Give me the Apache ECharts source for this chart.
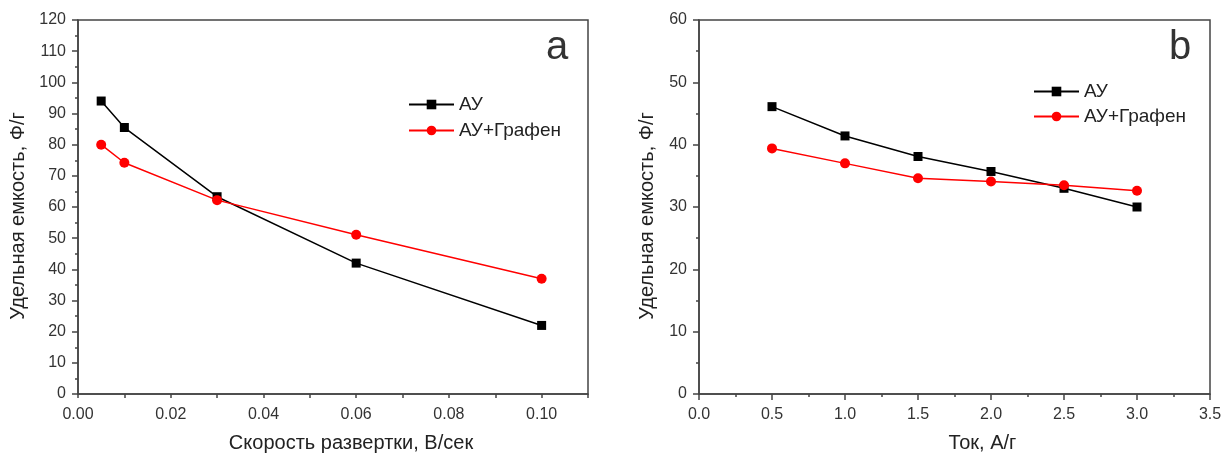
<!DOCTYPE html>
<html>
<head>
<meta charset="utf-8">
<script src="https://cdn.jsdelivr.net/npm/echarts@6/dist/echarts.min.js"></script>
<style>
html,body{margin:0;padding:0;background:#fff;}
#chart{width:1223px;height:454px;}
</style>
</head>
<body>
<div id="chart"></div>
<script>
// Panel a: specific capacitance vs scan rate
const scanRate = [0.005, 0.01, 0.03, 0.06, 0.10];
const auA = [94, 85.5, 63.3, 42, 22];
const auGrapheneA = [80, 74.2, 62.2, 51.1, 37];
// Panel b: specific capacitance vs current density
const current = [0.5, 1.0, 1.5, 2.0, 2.5, 3.0];
const auB = [46.1, 41.4, 38.1, 35.7, 33.0, 30.0];
const auGrapheneB = [39.4, 37.0, 34.6, 34.1, 33.5, 32.6];

const seriesNames = ['АУ', 'АУ+Графен'];
const yName = 'Удельная емкость, Ф/г';
const xNameA = 'Скорость развертки, В/сек';
const xNameB = 'Ток, А/г';
const panelLabels = ['a', 'b'];

const FONT = '"Liberation Sans", Arial, sans-serif';
const AX = '#444';
const pair = (xs, ys) => xs.map((x, i) => [x, ys[i]]);

function xAxis(gridIndex, max, interval, name, labelFmt, namePad) {
  return {
    type: 'value', gridIndex, min: 0, max, interval,
    name, nameLocation: 'middle', nameGap: 39,
    nameTextStyle: { fontFamily: FONT, fontSize: 20, color: '#222', padding: namePad },
    axisLine: { show: true, onZero: false, lineStyle: { color: AX, width: 1.5 } },
    axisTick: { show: true, inside: false, length: 4, lineStyle: { color: AX, width: 1.5 } },
    minorTick: { show: false },
    splitLine: { show: false },
    axisLabel: { fontFamily: FONT, fontSize: 16, color: '#333', margin: 13, formatter: labelFmt, showMaxLabel: true }
  };
}
function yAxis(gridIndex, max, gap) {
  return {
    type: 'value', gridIndex, min: 0, max, interval: 10,
    name: yName, nameLocation: 'middle', nameGap: gap,
    nameTextStyle: { fontFamily: FONT, fontSize: 20, color: '#222', padding: [0, 18, 0, 0] },
    axisLine: { show: true, onZero: false, lineStyle: { color: AX, width: 1.5 } },
    axisTick: { show: true, inside: false, length: 6, lineStyle: { color: AX, width: 1.5 } },
    minorTick: { show: true, splitNumber: 2, length: 3, lineStyle: { color: AX, width: 1.5 } },
    splitLine: { show: false },
    axisLabel: { fontFamily: FONT, fontSize: 16, color: '#333', margin: 12 }
  };
}
function lineSeries(name, xi, data, color, symbol, size) {
  return {
    name, type: 'line', xAxisIndex: xi, yAxisIndex: xi, data,
    symbol, symbolSize: size, showSymbol: true,
    lineStyle: { color, width: 1.5 }, itemStyle: { color },
    emphasis: { disabled: true }, animation: false
  };
}

const chart = echarts.init(document.getElementById('chart'), null, { renderer: 'canvas' });
chart.setOption({
  backgroundColor: '#fff',
  animation: false,
  title: [
    { text: panelLabels[0], left: 541, top: 23, textStyle: { fontFamily: FONT, fontSize: 40, fontWeight: 'normal', color: '#333' } },
    { text: panelLabels[1], left: 1164, top: 23, textStyle: { fontFamily: FONT, fontSize: 40, fontWeight: 'normal', color: '#333' } }
  ],
  grid: [
    { left: 78, top: 20, width: 510, height: 374, show: true, borderColor: AX, borderWidth: 1.5, backgroundColor: 'transparent', outerBoundsMode: 'none', containLabel: false },
    { left: 699, top: 20, width: 511, height: 374, show: true, borderColor: AX, borderWidth: 1.5, backgroundColor: 'transparent', outerBoundsMode: 'none', containLabel: false }
  ],
  legend: [
    { data: seriesNames, left: 403, top: 90, orient: 'vertical', itemWidth: 45, itemHeight: 12, itemGap: 7,
      textStyle: { fontFamily: FONT, fontSize: 19, color: '#222' } },
    { data: seriesNames, left: 1028, top: 77, orient: 'vertical', itemWidth: 45, itemHeight: 12, itemGap: 6,
      textStyle: { fontFamily: FONT, fontSize: 19, color: '#222' } }
  ],
  xAxis: [
    xAxis(0, 0.11, 0.01, xNameA, v => (Math.round(v * 100) % 2 === 0 ? v.toFixed(2) : ''), [0, 0, 0, 36]),
    (function () { const a = xAxis(1, 3.5, 0.5, xNameB, v => v.toFixed(1), [0, 0, 0, 56]);
      a.axisTick.length = 6; a.minorTick = { show: true, splitNumber: 2, length: 3, lineStyle: { color: AX, width: 1.5 } }; return a; })()
  ],
  yAxis: [yAxis(0, 120, 50), yAxis(1, 60, 42)],
  series: [
    lineSeries(seriesNames[0], 0, pair(scanRate, auA), '#000', 'rect', 9),
    lineSeries(seriesNames[1], 0, pair(scanRate, auGrapheneA), '#ff0000', 'circle', 10),
    lineSeries(seriesNames[0], 1, pair(current, auB), '#000', 'rect', 9),
    lineSeries(seriesNames[1], 1, pair(current, auGrapheneB), '#ff0000', 'circle', 10)
  ]
});
</script>
</body>
</html>
